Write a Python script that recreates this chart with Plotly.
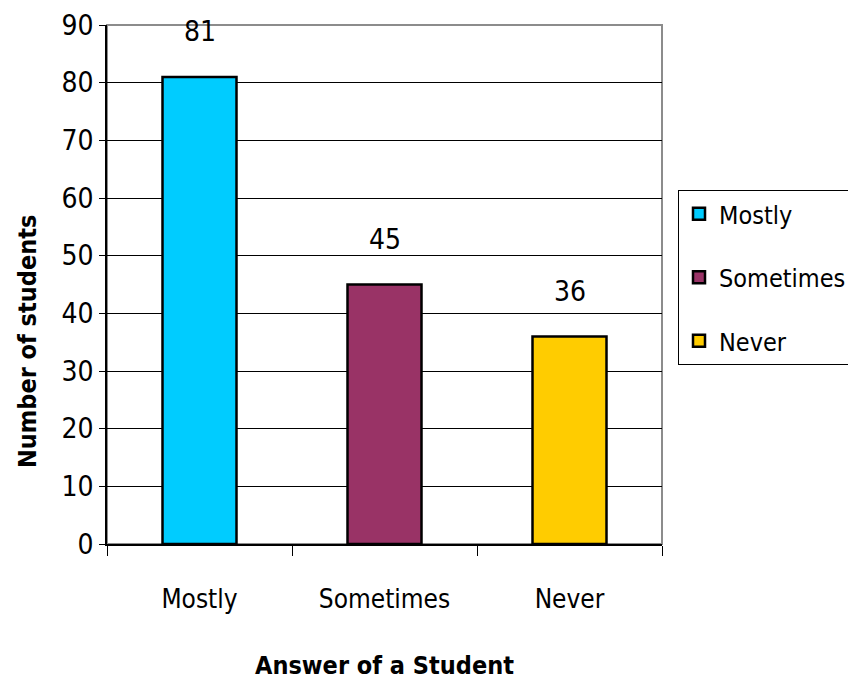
import plotly.graph_objects as go

# Survey answers and counts
categories = ["Mostly", "Sometimes", "Never"]
counts = [81, 45, 36]
colors = ["#00CCFF", "#993366", "#FFCC00"]

y_ticks = list(range(0, 91, 10))

FONT = "DejaVu Sans Condensed"

fig = go.Figure()
for cat, val, col in zip(categories, counts, colors):
    fig.add_trace(go.Bar(
        x=[cat], y=[val], name=cat, legendgroup=cat,
        marker=dict(color=col, line=dict(color="black", width=2.5)),
        width=0.4,
    ))
    fig.add_annotation(
        x=cat, y=val, text=str(val), showarrow=False,
        yshift=45, font=dict(family=FONT, size=28, color="black"),
    )

# gray frame on top/right of plot area
fig.add_shape(type="rect", xref="paper", yref="paper", x0=0, x1=1, y0=0, y1=1,
              line=dict(color="#8c8c8c", width=2), layer="below")

# vertical axis title, placed as free text
fig.add_annotation(
    xref="paper", yref="paper", x=(27 - 107) / 555, y=(544 - 342) / 519,
    xanchor="center", yanchor="middle",
    text="<b>Number of students</b>", textangle=-90, showarrow=False,
    font=dict(family=FONT, size=25, color="black"),
)

fig.update_layout(
    width=848, height=682,
    margin=dict(l=107, r=186, t=25, b=138),
    plot_bgcolor="white", paper_bgcolor="white",
    barmode="overlay",
    font=dict(family=FONT, size=28, color="black"),
    showlegend=True,
    legend=dict(
        xref="container", yref="container",
        x=678 / 848, y=1 - 190 / 682, xanchor="left", yanchor="top",
        bgcolor="white", bordercolor="black", borderwidth=1,
        font=dict(family=FONT, size=25, color="black"),
        traceorder="grouped", tracegroupgap=28,
        itemwidth=30,
    ),
    xaxis=dict(
        type="category", categoryorder="array", categoryarray=categories,
        automargin=False,
        showline=True, linecolor="black", linewidth=1.5,
        ticks="outside", tickson="boundaries", ticklen=10, tickcolor="black",
        tickfont=dict(family=FONT, size=26), showgrid=False,
        ticklabelstandoff=31,
        title=dict(text="<b>Answer of a Student</b>", standoff=44,
                   font=dict(family=FONT, size=25)),
    ),
    yaxis=dict(
        range=[0, 90], tickvals=y_ticks, automargin=False,
        showline=True, linecolor="black", linewidth=1.5,
        ticks="outside", ticklen=6, tickcolor="black",
        showgrid=True, gridcolor="black", gridwidth=1,
        tickfont=dict(family=FONT, size=28),
        zeroline=False,
    ),
)

fig.write_html("out.html")
